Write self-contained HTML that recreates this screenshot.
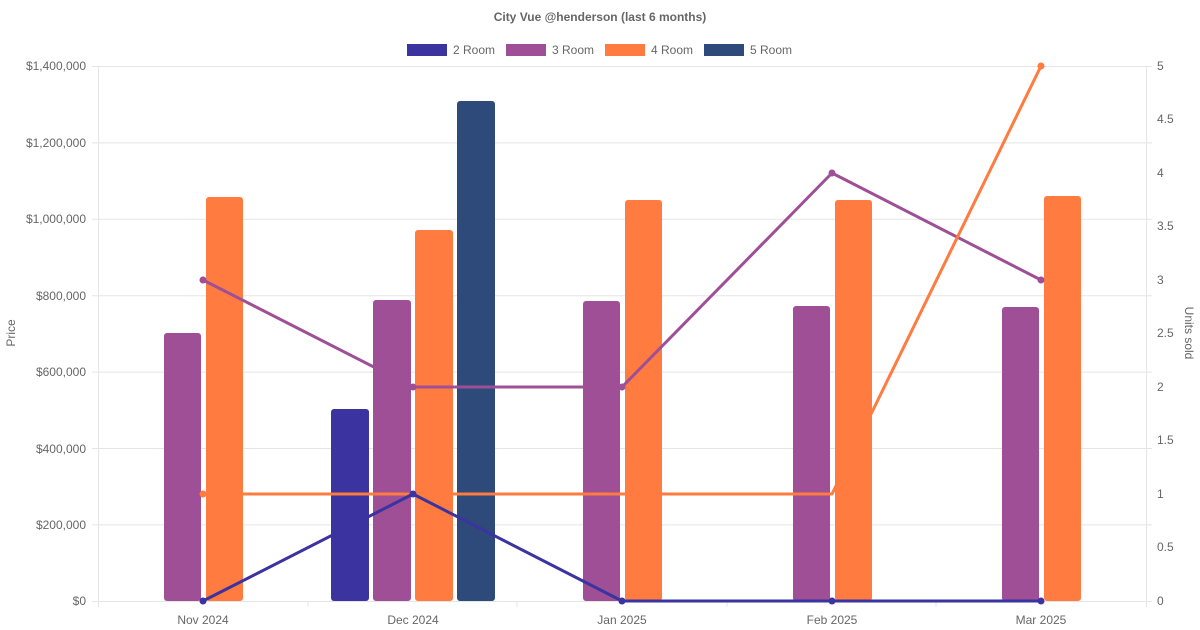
<!DOCTYPE html>
<html><head><meta charset="utf-8"><style>body{margin:0;background:#fff}svg{display:block;font-family:"Liberation Sans",sans-serif}</style></head><body>
<svg width="1200" height="630" viewBox="0 0 1200 630">
<text x="600" y="21" text-anchor="middle" font-size="12" font-weight="bold" fill="#666">City Vue @henderson (last 6 months)</text>
<g font-size="12" fill="#666">
<rect x="407" y="44" width="40" height="12" fill="#3a33a0"/><text x="453" y="54">2 Room</text>
<rect x="506" y="44" width="40" height="12" fill="#9e4f96"/><text x="552" y="54">3 Room</text>
<rect x="605" y="44" width="40" height="12" fill="#ff7b3f"/><text x="651" y="54">4 Room</text>
<rect x="704" y="44" width="40" height="12" fill="#2e4a7a"/><text x="750" y="54">5 Room</text>
</g>
<g stroke="#e5e5e5" stroke-width="1">
<line x1="92" y1="66.5" x2="1152" y2="66.5"/><line x1="92" y1="142.9" x2="1152" y2="142.9"/><line x1="92" y1="219.3" x2="1152" y2="219.3"/><line x1="92" y1="295.7" x2="1152" y2="295.7"/><line x1="92" y1="372.1" x2="1152" y2="372.1"/><line x1="92" y1="448.5" x2="1152" y2="448.5"/><line x1="92" y1="524.9" x2="1152" y2="524.9"/><line x1="92" y1="601.5" x2="1152" y2="601.5"/>
<line x1="98.5" y1="66" x2="98.5" y2="607"/><line x1="1146.5" y1="66" x2="1146.5" y2="607"/>
<line x1="308" y1="601" x2="308" y2="607"/><line x1="517" y1="601" x2="517" y2="607"/><line x1="727" y1="601" x2="727" y2="607"/><line x1="936" y1="601" x2="936" y2="607"/>
</g>
<g font-size="12" fill="#666" text-anchor="end">
<text x="86" y="70">$1,400,000</text><text x="86" y="147">$1,200,000</text><text x="86" y="223">$1,000,000</text><text x="86" y="300">$800,000</text><text x="86" y="376">$600,000</text><text x="86" y="453">$400,000</text><text x="86" y="529">$200,000</text><text x="86" y="605">$0</text>
</g>
<g font-size="12" fill="#666">
<text x="1157" y="70">5</text><text x="1157" y="123">4.5</text><text x="1157" y="177">4</text><text x="1157" y="230">3.5</text><text x="1157" y="284">3</text><text x="1157" y="337">2.5</text><text x="1157" y="391">2</text><text x="1157" y="444">1.5</text><text x="1157" y="498">1</text><text x="1157" y="551">0.5</text><text x="1157" y="605">0</text>
</g>
<g font-size="12" fill="#666" text-anchor="middle">
<text x="203" y="624">Nov 2024</text><text x="413" y="624">Dec 2024</text><text x="622" y="624">Jan 2025</text><text x="832" y="624">Feb 2025</text><text x="1041" y="624">Mar 2025</text>
<text transform="translate(15,333) rotate(-90)">Price</text>
<text transform="translate(1185,333) rotate(90)">Units sold</text>
</g>
<g>
<rect x="164" y="333" width="37" height="268" rx="3" fill="#9e4f96"/>
<rect x="206" y="197" width="37" height="404" rx="3" fill="#ff7b3f"/>
<rect x="331" y="409" width="38" height="192" rx="3" fill="#3a33a0"/>
<rect x="373" y="300" width="38" height="301" rx="3" fill="#9e4f96"/>
<rect x="415" y="230" width="38" height="371" rx="3" fill="#ff7b3f"/>
<rect x="457" y="101" width="38" height="500" rx="3" fill="#2e4a7a"/>
<rect x="583" y="301" width="37" height="300" rx="3" fill="#9e4f96"/>
<rect x="625" y="200" width="37" height="401" rx="3" fill="#ff7b3f"/>
<rect x="793" y="306" width="37" height="295" rx="3" fill="#9e4f96"/>
<rect x="835" y="200" width="37" height="401" rx="3" fill="#ff7b3f"/>
<rect x="1002" y="307" width="37" height="294" rx="3" fill="#9e4f96"/>
<rect x="1044" y="196" width="37" height="405" rx="3" fill="#ff7b3f"/>
</g>
<g fill="none" stroke-width="3" stroke-linejoin="round">
<polyline stroke="#9e4f96" points="203,280 413,387 622,387 832,173 1041,280"/>
<polyline stroke="#ff7b3f" points="203,494 413,494 622,494 832,494 1041,66"/>
<polyline stroke="#3a33a0" points="203,601 413,494 622,601 832,601 1041,601"/>
</g>
<g>
<circle cx="203" cy="280" r="3.5" fill="#9e4f96"/><circle cx="413" cy="387" r="3.5" fill="#9e4f96"/><circle cx="622" cy="387" r="3.5" fill="#9e4f96"/><circle cx="832" cy="173" r="3.5" fill="#9e4f96"/><circle cx="1041" cy="280" r="3.5" fill="#9e4f96"/>
<circle cx="203" cy="494" r="3.5" fill="#ff7b3f"/><circle cx="1041" cy="66" r="3.5" fill="#ff7b3f"/>
<circle cx="203" cy="601" r="3.5" fill="#3a33a0"/><circle cx="413" cy="494" r="3.5" fill="#3a33a0"/><circle cx="622" cy="601" r="3.5" fill="#3a33a0"/><circle cx="832" cy="601" r="3.5" fill="#3a33a0"/><circle cx="1041" cy="601" r="3.5" fill="#3a33a0"/>
</g>
</svg>
</body></html>
